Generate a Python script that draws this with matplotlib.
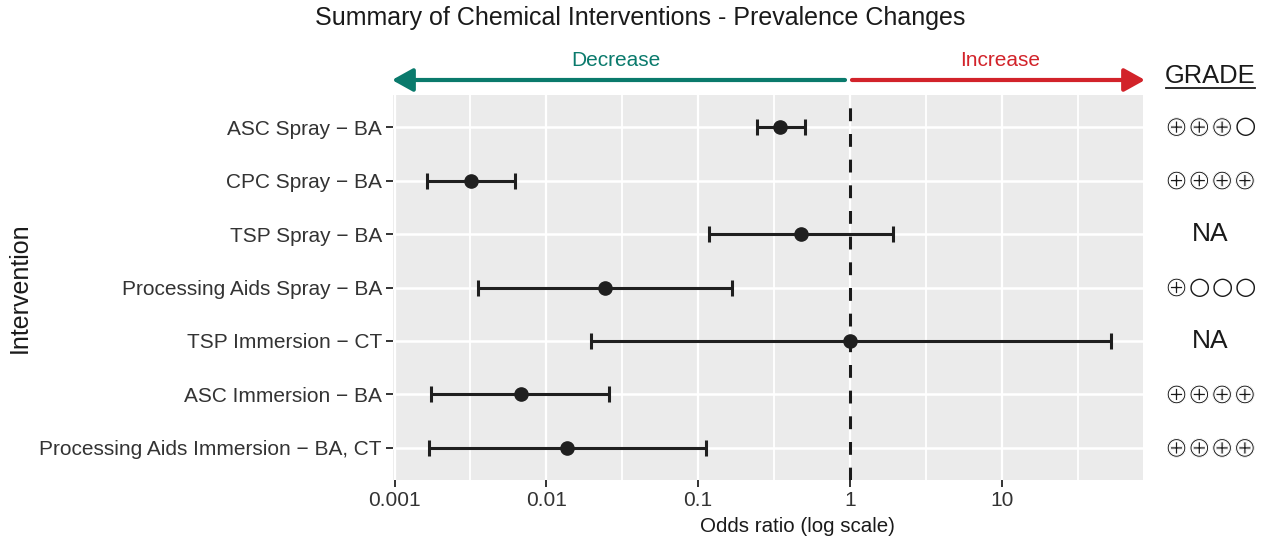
import matplotlib
matplotlib.use("Agg")
import matplotlib.pyplot as plt
import matplotlib.transforms as mtransforms
import matplotlib.patheffects as pe
from matplotlib.lines import Line2D
from matplotlib.textpath import TextPath
from matplotlib.font_manager import FontProperties
import numpy as np

# ---- data ----
interventions = [
    "ASC Spray \u2212 BA",
    "CPC Spray \u2212 BA",
    "TSP Spray \u2212 BA",
    "Processing Aids Spray \u2212 BA",
    "TSP Immersion \u2212 CT",
    "ASC Immersion \u2212 BA",
    "Processing Aids Immersion \u2212 BA, CT",
]
odds_ratio = [0.347, 0.0032, 0.477, 0.0243, 1.0, 0.00676, 0.0137]
ci_low = [0.244, 0.00164, 0.118, 0.00357, 0.0198, 0.00173, 0.00168]
ci_high = [0.504, 0.00622, 1.92, 0.166, 52.5, 0.026, 0.112]
grade = ["\u2295\u2295\u2295\u25cb", "\u2295\u2295\u2295\u2295", "NA", "\u2295\u25cb\u25cb\u25cb",
         "NA", "\u2295\u2295\u2295\u2295", "\u2295\u2295\u2295\u2295"]
xtick_values = [0.001, 0.01, 0.1, 1, 10]
xtick_labels = ["0.001", "0.01", "0.1", "1", "10"]

plt.rcParams['font.family'] = ['Liberation Sans', 'DejaVu Sans']

W, H = 1263, 543
DPI = 100
fig = plt.figure(figsize=(W / DPI, H / DPI), dpi=DPI)
fig.patch.set_facecolor("white")

left, right, top, bottom = 393, 1143, 95, 480
ax = fig.add_axes([left / W, 1 - bottom / H, (right - left) / W, (bottom - top) / H])
ax.set_facecolor("#EBEBEB")
for s in ax.spines.values():
    s.set_visible(False)

ax.set_xscale("log")
ax.set_xlim(10 ** -3.01, 10 ** 1.93)
n = len(interventions)
ypos = np.arange(n)
ax.set_ylim(n - 1 + 0.6, -0.6)

# grid
ax.set_axisbelow(True)
for v in xtick_values:
    ax.axvline(v, color="white", lw=1.6, zorder=0)
for v in xtick_values:
    ax.axvline(v * np.sqrt(10), color="white", lw=1.3, zorder=0)
for y in ypos:
    ax.axhline(y, color="white", lw=1.8, zorder=0)

# reference line
ax.axvline(1, color="#1a1a1a", lw=2.2, linestyle=(0, (4.2, 4.2)), zorder=2)

# error bars and points
xerr = [np.array(odds_ratio) - np.array(ci_low), np.array(ci_high) - np.array(odds_ratio)]
ax.errorbar(odds_ratio, ypos, xerr=xerr, fmt="o", color="#1f1f1f", ecolor="#1f1f1f",
            elinewidth=2.2, capsize=6, capthick=2.2, markersize=9.5, zorder=3)

ax.set_yticks(ypos)
ax.set_yticklabels(interventions, fontsize=15, color="#333333")
ax.set_xticks(xtick_values)
ax.set_xticklabels(xtick_labels, fontsize=15, color="#333333")
ax.xaxis.set_minor_locator(matplotlib.ticker.NullLocator())
ax.tick_params(axis="both", which="major", length=5, width=1.4, color="#333333", pad=3)

fig.text(20 / W, 1 - 288 / H, "Intervention", fontsize=18, color="#1a1a1a",
         ha="center", va="center", rotation=90)
fig.text(797 / W, 1 - 526 / H, "Odds ratio (log scale)", fontsize=14.8, color="#1a1a1a",
         ha="center", va="center")

# title
fig.text(640 / W, 1 - 18 / H, "Summary of Chemical Interventions - Prevalence Changes",
         fontsize=18, color="#1a1a1a", ha="center", va="center")

# direction arrows
teal = "#0A7A6C"
red = "#D2232A"
ay = 1 - 80 / H
fig.add_artist(matplotlib.patches.FancyArrowPatch(
    (845 / W, ay), (392 / W, ay), transform=fig.transFigure,
    arrowstyle="-|>,head_length=0.9,head_width=0.5", mutation_scale=14,
    color=teal, lw=3, shrinkA=0, shrinkB=0))
fig.add_artist(matplotlib.patches.FancyArrowPatch(
    (852 / W, ay), (1145 / W, ay), transform=fig.transFigure,
    arrowstyle="-|>,head_length=0.9,head_width=0.5", mutation_scale=14,
    color=red, lw=3, shrinkA=0, shrinkB=0))
fig.text(616 / W, 1 - 61 / H, "Decrease", fontsize=15, color=teal, ha="center", va="center")
fig.text(1000 / W, 1 - 61 / H, "Increase", fontsize=15, color=red, ha="center", va="center")

# GRADE column
gx = 1210 / W
fig.text(gx, 1 - 76 / H, "GRADE", fontsize=18.4, color="#1a1a1a", ha="center", va="center")
fig.add_artist(Line2D([1166 / W, 1255 / W], [1 - 88 / H, 1 - 88 / H], transform=fig.transFigure,
                      color="#1a1a1a", lw=1.3))

sym_font = FontProperties(family="DejaVu Sans")
sym_step_px = 22.8
sym_first_px = 1176.5


def glyph_ext(ch):
    return TextPath((0, 0), ch, size=100, prop=sym_font).get_extents()


# diameter chosen so that each glyph's text box (origin..ink right) stays clear of the next
ext_plus = glyph_ext("\u2295")
sym_diam_px = (sym_step_px - 1.5) / (1 + max(ext_plus.x0, 0) / ext_plus.width)


def glyph_metrics(ch):
    ext = glyph_ext(ch)
    fs = sym_diam_px * 72 / DPI * 100 / ext.width
    cx = (ext.x0 + ext.x1) / 2 * fs / 100
    cy = (ext.y0 + ext.y1) / 2 * fs / 100
    return fs, cx, cy


thin = [pe.Normal(), pe.Stroke(linewidth=0.8, foreground="white")]
trans_base = mtransforms.blended_transform_factory(fig.transFigure, ax.transData)
for y, g in zip(ypos, grade):
    if g == "NA":
        fig.text(gx, y, g, transform=trans_base, fontsize=19, color="#1a1a1a",
                 ha="center", va="center")
    else:
        for i, ch in enumerate(g):
            fs, cx, cy = glyph_metrics(ch)
            px = sym_first_px + i * sym_step_px
            t = trans_base + mtransforms.ScaledTranslation(-cx / 72, -cy / 72, fig.dpi_scale_trans)
            fig.text(px / W, y, ch, transform=t, fontsize=fs, color="#1a1a1a",
                     ha="left", va="baseline", fontproperties=sym_font,
                     path_effects=thin if ch == "\u2295" else None)

fig.savefig("out.png", dpi=DPI)
